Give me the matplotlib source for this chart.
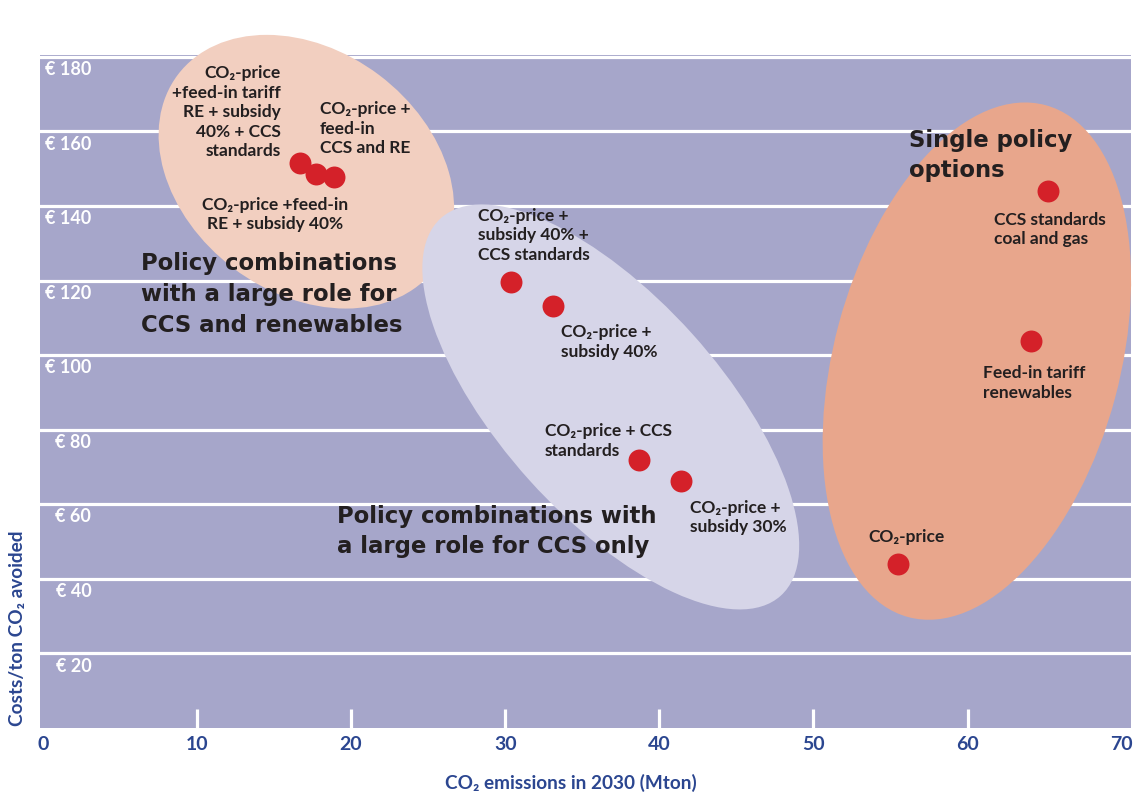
import matplotlib
matplotlib.use("Agg")
import matplotlib.pyplot as plt
from matplotlib.patches import Ellipse
from matplotlib.transforms import ScaledTranslation, blended_transform_factory

plt.rcParams['font.family'] = ['Lato', 'DejaVu Sans']

# policy scenarios: CO2 emissions in 2030 (Mton) vs cost per ton CO2 avoided (EUR)
policies = [
    'CO2-price + feed-in tariff RE + subsidy 40% + CCS standards',
    'CO2-price + feed-in RE + subsidy 40%',
    'CO2-price + feed-in CCS and RE',
    'CO2-price + subsidy 40% + CCS standards',
    'CO2-price + subsidy 40%',
    'CO2-price + CCS standards',
    'CO2-price + subsidy 30%',
    'CO2-price',
    'Feed-in tariff renewables',
    'CCS standards coal and gas',
]
emissions = [16.7, 17.7, 18.9, 30.4, 33.1, 38.7, 41.4, 55.5, 64.1, 65.2]
costs = [151.6, 148.6, 147.9, 119.5, 113.1, 71.9, 66.3, 44.1, 103.7, 143.9]

labels = [
    'CO\u2082-price\n+feed-in tariff\nRE + subsidy\n40% + CCS\nstandards',
    'CO\u2082-price +feed-in\nRE + subsidy 40%',
    'CO\u2082-price +\nfeed-in\nCCS and RE',
    'CO\u2082-price +\nsubsidy 40% +\nCCS standards',
    'CO\u2082-price +\nsubsidy 40%',
    'CO\u2082-price + CCS\nstandards',
    'CO\u2082-price +\nsubsidy 30%',
    'CO\u2082-price',
    'Feed-in tariff\nrenewables',
    'CCS standards\ncoal and gas',
]
# label anchor (x, y, horizontal alignment)
label_pos = [
    (15.45, 165.2, 'right'),
    (15.06, 137.7, 'center'),
    (17.98, 160.7, 'left'),
    (28.22, 132.1, 'left'),
    (33.60, 103.5, 'left'),
    (32.57, 77.0, 'left'),
    (41.97, 56.4, 'left'),
    (53.58, 51.3, 'left'),
    (60.97, 92.5, 'left'),
    (61.68, 133.7, 'left'),
]

groups = [
    'Policy combinations\nwith a large role for\nCCS and renewables',
    'Policy combinations with\na large role for CCS only',
    'Single policy\noptions',
]
group_pos = [(6.37, 116.3), (19.08, 52.7), (56.17, 153.5)]
group_spacing = [1.45, 1.36, 1.36]

# group ellipses: centre in data units, size in inches, angle in degrees
ellipses = [
    ((17.1, 149.2), 3.22, 2.42, -37, '#f2cfc0'),
    ((36.85, 86.1), 5.08, 2.19, -48, '#d6d5e8'),
    ((60.6, 98.4), 5.3, 2.86, 75, '#e8a68c'),
]

cost_ticks = [20, 40, 60, 80, 100, 120, 140, 160, 180]
mton_ticks = [0, 10, 20, 30, 40, 50, 60, 70]

blue = '#2b4690'
ink = '#231f20'

fig = plt.figure(figsize=(11.4, 7.94), dpi=100)
ax = fig.add_axes([40 / 1140, 66 / 794, 1091 / 1140, 673 / 794])
ax.set_facecolor('#a6a6ca')
ax.set_xlim(-0.18, 70.6)
ax.set_ylim(0, 180.5)
for s in ax.spines.values():
    s.set_visible(False)

for c in cost_ticks:
    ax.axhline(c, color='white', lw=2.3, zorder=1)

trans_lbl = blended_transform_factory(ax.transAxes, ax.transData)
for c in cost_ticks:
    ax.text(0.047, c - 3.4, '\u20ac %d' % c, transform=trans_lbl, ha='right', va='center',
            color='white', fontsize=13, fontweight='bold', zorder=2)

for (cx, cy), w, h, ang, col in ellipses:
    tr = fig.dpi_scale_trans + ScaledTranslation(cx, cy, ax.transData)
    e = Ellipse((0, 0), w, h, angle=ang, transform=tr, facecolor=col,
                edgecolor='none', zorder=3, clip_on=False)
    ax.add_patch(e)

ax.plot(emissions, costs, 'o', color='#d42129', markersize=15.8, markeredgewidth=0, zorder=5)

for txt, (lx, ly, ha) in zip(labels, label_pos):
    ax.text(lx, ly, txt, ha=ha, va='center', multialignment=ha, color=ink,
            fontsize=12.5, fontweight='bold', linespacing=1.27, zorder=6)

for txt, (gx, gy), ls in zip(groups, group_pos, group_spacing):
    ax.text(gx, gy, txt, ha='left', va='center', color=ink, fontsize=16.4,
            family='DejaVu Sans', fontweight='bold', linespacing=ls, zorder=6)

ax.set_xticks(mton_ticks)
ax.set_xticklabels([])
ax.set_yticks([])
ax.tick_params(axis='x', direction='in', length=14, width=2.3, color='white')
for t in ax.xaxis.get_major_ticks():
    if t.get_loc() in (0, 70):
        t.tick1line.set_visible(False)
for m in mton_ticks:
    ax.text(m, -4.5, str(m), ha='center', va='center', color=blue,
            fontsize=14, fontweight='bold', clip_on=False)

fig.text(571 / 1140, 1 - 783 / 794, 'CO\u2082 emissions in 2030 (Mton)', ha='center', va='center',
         color=blue, fontsize=13.7, fontweight='bold')
fig.text(18 / 1140, 1 - 628 / 794, 'Costs/ton CO\u2082 avoided', ha='center', va='center',
         rotation=90, color=blue, fontsize=13.7, fontweight='bold')

fig.savefig('out.png', dpi=100)
